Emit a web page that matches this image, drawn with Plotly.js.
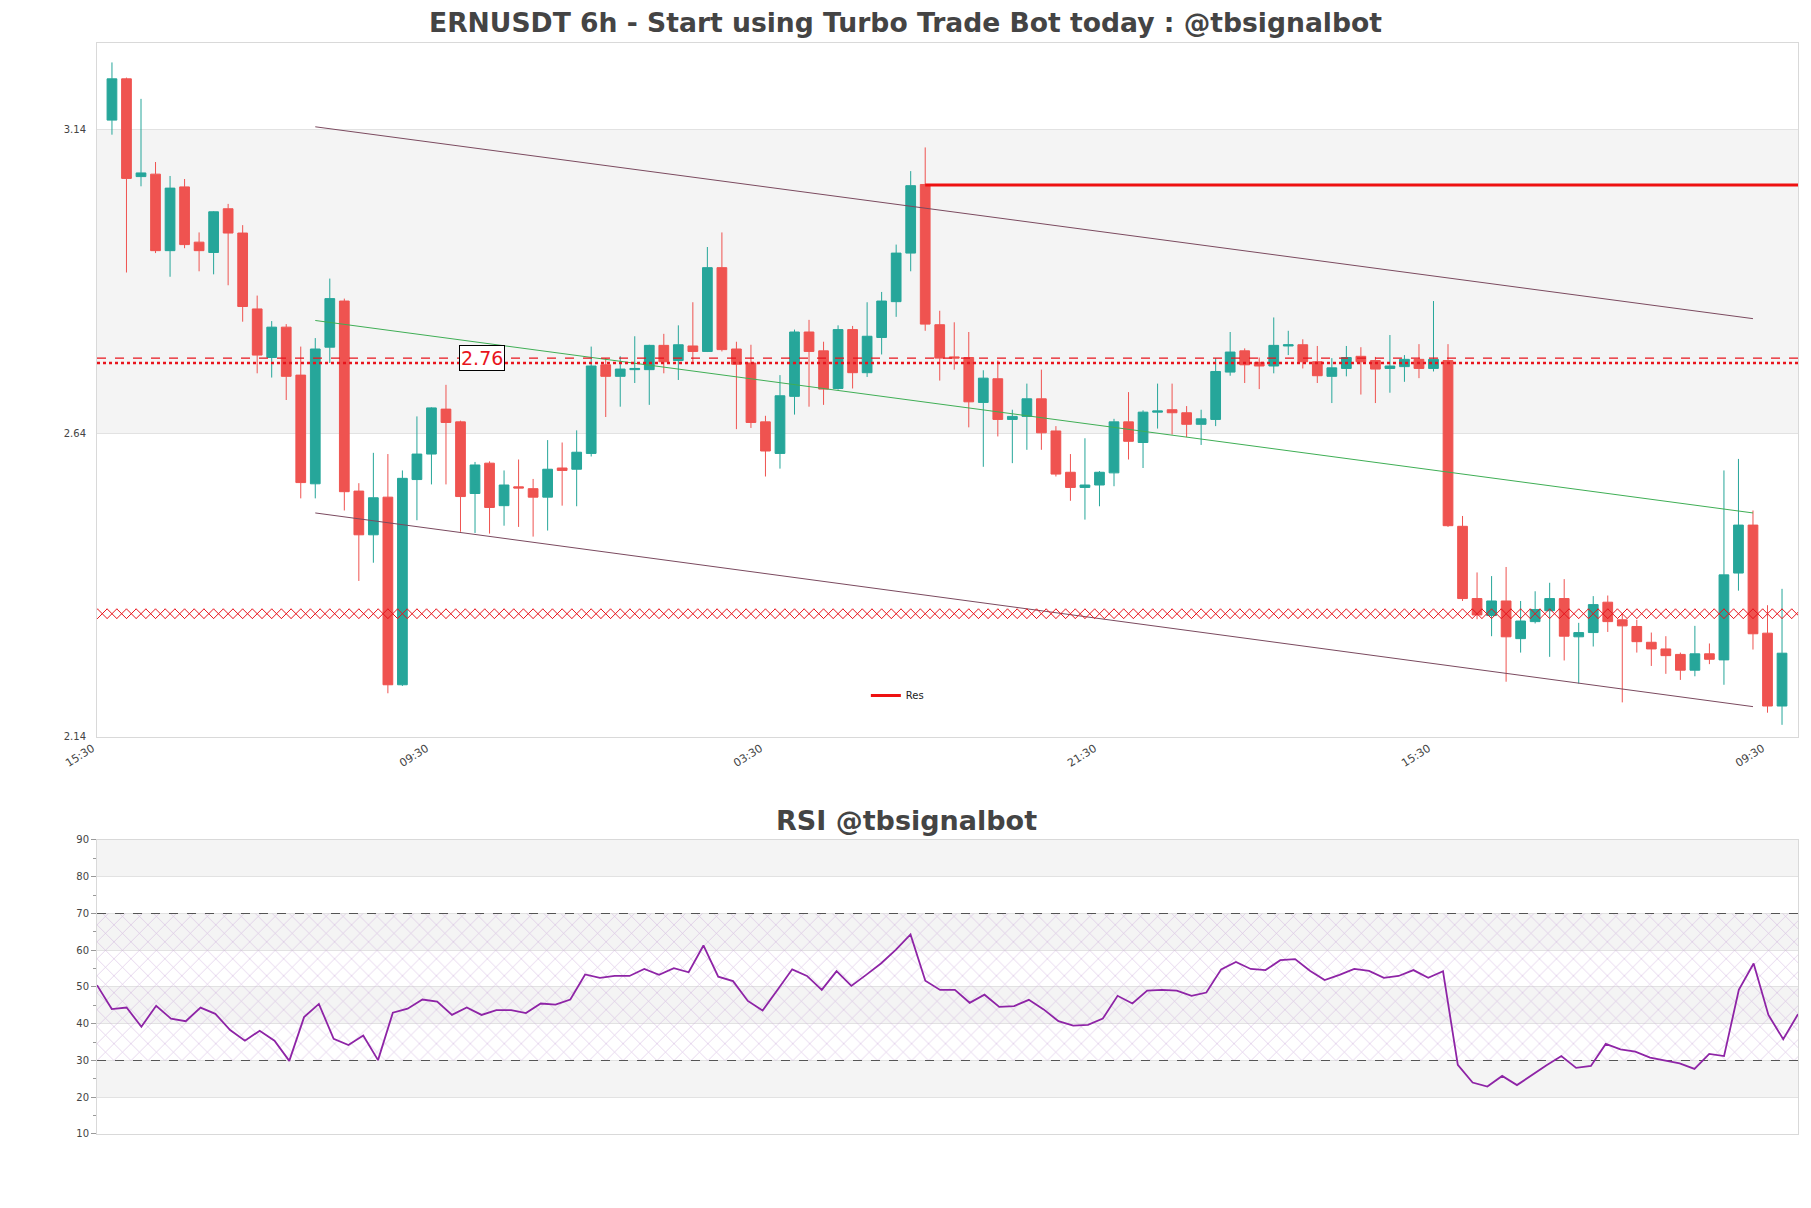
<!DOCTYPE html>
<html><head><meta charset="utf-8">
<script src="https://cdn.plot.ly/plotly-3.0.1.min.js"></script>
<style>html,body{margin:0;padding:0;background:#fff}</style>
</head><body>
<div id="chart" style="width:1811px;height:1208px"></div>
<script>
// ---- price data (6h candles) ----
const openP  = [3.156,3.224,3.063,3.067,2.941,3.046,2.955,2.938,3.010,2.970,2.845,2.765,2.815,2.736,2.557,2.782,2.858,2.545,2.473,2.535,2.226,2.564,2.606,2.680,2.659,2.541,2.591,2.521,2.552,2.549,2.535,2.583,2.581,2.607,2.753,2.734,2.745,2.745,2.785,2.760,2.784,2.775,2.913,2.779,2.756,2.659,2.607,2.701,2.807,2.776,2.714,2.811,2.740,2.798,2.857,2.937,3.050,2.819,2.766,2.765,2.691,2.730,2.663,2.668,2.697,2.644,2.576,2.551,2.555,2.575,2.659,2.625,2.675,2.679,2.674,2.655,2.663,2.741,2.776,2.757,2.751,2.784,2.786,2.758,2.734,2.747,2.767,2.760,2.747,2.750,2.762,2.747,2.760,2.487,2.368,2.340,2.364,2.302,2.330,2.348,2.368,2.305,2.312,2.362,2.333,2.322,2.296,2.285,2.276,2.250,2.277,2.267,2.410,2.489,2.311,2.191];
const highP  = [3.251,3.226,3.191,3.087,3.064,3.059,2.971,3.006,3.018,2.983,2.867,2.825,2.820,2.783,2.797,2.895,2.862,2.558,2.608,2.606,2.579,2.668,2.683,2.720,2.661,2.593,2.594,2.579,2.597,2.565,2.629,2.625,2.645,2.783,2.764,2.767,2.800,2.786,2.804,2.818,2.856,2.947,2.971,2.791,2.786,2.669,2.736,2.811,2.827,2.791,2.818,2.817,2.856,2.873,2.951,3.072,3.111,2.842,2.823,2.807,2.744,2.760,2.679,2.722,2.745,2.652,2.606,2.632,2.578,2.664,2.708,2.678,2.722,2.722,2.685,2.679,2.764,2.807,2.780,2.765,2.831,2.809,2.795,2.784,2.764,2.784,2.782,2.766,2.802,2.769,2.787,2.858,2.787,2.504,2.411,2.405,2.420,2.364,2.380,2.394,2.400,2.328,2.372,2.373,2.343,2.333,2.312,2.306,2.279,2.323,2.294,2.579,2.598,2.513,2.357,2.384];
const lowP   = [3.132,2.905,3.047,2.937,2.898,2.945,2.907,2.902,2.884,2.824,2.739,2.732,2.695,2.533,2.533,2.756,2.513,2.397,2.427,2.212,2.224,2.497,2.556,2.556,2.478,2.476,2.475,2.488,2.486,2.470,2.480,2.521,2.520,2.602,2.667,2.684,2.723,2.687,2.739,2.728,2.756,2.774,2.775,2.647,2.649,2.569,2.582,2.671,2.684,2.687,2.712,2.714,2.733,2.770,2.832,2.907,2.809,2.727,2.745,2.650,2.585,2.635,2.591,2.613,2.613,2.569,2.529,2.498,2.520,2.553,2.597,2.583,2.648,2.638,2.634,2.621,2.652,2.735,2.723,2.713,2.739,2.769,2.747,2.723,2.690,2.734,2.704,2.690,2.707,2.725,2.731,2.742,2.486,2.364,2.334,2.306,2.231,2.279,2.327,2.272,2.266,2.228,2.289,2.313,2.197,2.279,2.257,2.244,2.234,2.240,2.260,2.226,2.381,2.284,2.180,2.160];
const closeP = [3.224,3.060,3.069,2.941,3.044,2.951,2.941,3.005,2.970,2.849,2.769,2.815,2.734,2.559,2.779,2.862,2.544,2.473,2.534,2.226,2.566,2.606,2.682,2.658,2.536,2.588,2.518,2.555,2.550,2.535,2.581,2.579,2.609,2.751,2.734,2.746,2.747,2.785,2.758,2.786,2.775,2.913,2.778,2.754,2.658,2.611,2.702,2.807,2.775,2.713,2.811,2.740,2.800,2.858,2.937,3.048,2.820,2.764,2.764,2.692,2.731,2.663,2.668,2.697,2.641,2.573,2.551,2.555,2.576,2.659,2.627,2.675,2.677,2.674,2.655,2.664,2.742,2.774,2.753,2.751,2.785,2.786,2.758,2.735,2.748,2.765,2.758,2.746,2.751,2.762,2.747,2.762,2.488,2.368,2.341,2.364,2.305,2.331,2.350,2.368,2.306,2.312,2.358,2.330,2.323,2.297,2.285,2.274,2.250,2.277,2.268,2.407,2.489,2.310,2.191,2.278];

// ---- RSI ----
const rsiVals = [50.5,44.0,44.4,39.2,44.9,41.4,40.7,44.4,42.7,38.3,35.4,38.1,35.4,29.9,41.8,45.4,35.9,34.2,36.8,30.1,43.0,44.1,46.6,46.0,42.4,44.4,42.4,43.7,43.7,42.9,45.5,45.2,46.6,53.4,52.5,53.0,53.0,54.9,53.3,55.1,54.0,61.3,52.8,51.6,46.2,43.6,49.2,54.8,53.0,49.2,54.3,50.3,53.3,56.4,60.1,64.3,51.7,49.2,49.2,45.7,47.9,44.6,44.8,46.5,43.9,40.7,39.5,39.7,41.4,47.6,45.5,49.0,49.2,49.0,47.6,48.5,54.8,56.8,54.9,54.6,57.3,57.6,54.4,51.9,53.3,54.9,54.4,52.5,53.0,54.6,52.5,54.3,28.8,24.0,22.9,25.8,23.3,26.1,28.7,31.2,28.0,28.5,34.5,33.0,32.4,30.8,30.0,29.2,27.7,31.8,31.2,49.2,56.4,42.4,35.8,42.6];
const rsiLevels = [70, 30];

// ---- overlays ----
const channelIdx = [14, 113];
const upperVals = [3.145, 2.829];
const midVals   = [2.826, 2.509];
const lowerVals = [2.509, 2.190];
const resIdx = [56, 117];
const resLevel = 3.049;
const dashLevel = 2.764;
const dotLevel = 2.756;
const supLevel = 2.343;
const labelText = '2.76';
const mainBands = [[2.64, 3.14]];
const rsiBands = [[20,30],[40,50],[60,70],[80,90]];

// ---- time axis ----
const T0 = Date.UTC(2024, 4, 10, 21, 30);
const STEP = 6 * 3600 * 1000;
function dateAt(idx) {
  return new Date(T0 + Math.round(idx * STEP)).toISOString().slice(0, 19).replace('T', ' ');
}
const dates = openP.map((_, i) => dateAt(i));
const xStart = dateAt(-1.03), xEnd = dateAt(116.1);

const supX = [];
for (let k = -2; k <= 176; k++) supX.push(dateAt(k / 1.5));

const RED = '#ef5350', TEAL = '#26a69a';
const traces = [
  {type: 'candlestick', x: dates, open: openP, high: highP, low: lowP, close: closeP,
   increasing: {line: {color: TEAL, width: 1}, fillcolor: TEAL},
   decreasing: {line: {color: RED, width: 1}, fillcolor: RED},
   whiskerwidth: 0, showlegend: false, hoverinfo: 'skip', xaxis: 'x', yaxis: 'y'},
  {type: 'scatter', mode: 'lines', x: channelIdx.map(dateAt), y: upperVals,
   line: {color: '#7b4a5f', width: 1}, showlegend: false, xaxis: 'x', yaxis: 'y'},
  {type: 'scatter', mode: 'lines', x: channelIdx.map(dateAt), y: midVals,
   line: {color: '#3fae55', width: 1}, showlegend: false, xaxis: 'x', yaxis: 'y'},
  {type: 'scatter', mode: 'lines', x: channelIdx.map(dateAt), y: lowerVals,
   line: {color: '#7b4a5f', width: 1}, showlegend: false, xaxis: 'x', yaxis: 'y'},
  {type: 'scatter', mode: 'lines', x: [xStart, xEnd], y: [dashLevel, dashLevel],
   line: {color: '#e8141c', width: 1.3, dash: 'dash'}, showlegend: false, xaxis: 'x', yaxis: 'y'},
  {type: 'scatter', mode: 'lines', x: [xStart, xEnd], y: [dotLevel, dotLevel],
   line: {color: '#e8141c', width: 2.5, dash: 'dot'}, showlegend: false, xaxis: 'x', yaxis: 'y'},
  {type: 'scatter', mode: 'markers', x: supX, y: supX.map(() => supLevel),
   marker: {symbol: 'x-thin-open', size: 10, color: '#e8141c', line: {color: '#e8141c', width: 1}},
   showlegend: false, xaxis: 'x', yaxis: 'y'},
  {type: 'scatter', mode: 'lines', x: resIdx.map(dateAt), y: [resLevel, resLevel], name: 'Res',
   line: {color: '#ee1111', width: 3}, showlegend: true, xaxis: 'x', yaxis: 'y'},
  // RSI
  {type: 'scatter', mode: 'lines', x: [dates[0], dates[dates.length - 1]], y: [rsiLevels[1], rsiLevels[1]],
   line: {width: 0, color: 'rgba(0,0,0,0)'}, showlegend: false, xaxis: 'x2', yaxis: 'y2', hoverinfo: 'skip'},
  {type: 'scatter', mode: 'lines', x: [dates[0], dates[dates.length - 1]], y: [rsiLevels[0], rsiLevels[0]],
   fill: 'tonexty', fillcolor: 'rgba(0,0,0,0)',
   fillpattern: {shape: 'x', fgcolor: 'rgba(200,165,215,0.7)', bgcolor: 'rgba(0,0,0,0)', size: 12, solidity: 0.1},
   line: {width: 0, color: 'rgba(0,0,0,0)'}, showlegend: false, xaxis: 'x2', yaxis: 'y2', hoverinfo: 'skip'},
  {type: 'scatter', mode: 'lines', x: [dates[0], dates[dates.length - 1]], y: [rsiLevels[0], rsiLevels[0]],
   line: {color: '#555', width: 1.2, dash: 'dash'}, showlegend: false, xaxis: 'x2', yaxis: 'y2'},
  {type: 'scatter', mode: 'lines', x: [dates[0], dates[dates.length - 1]], y: [rsiLevels[1], rsiLevels[1]],
   line: {color: '#555', width: 1.2, dash: 'dash'}, showlegend: false, xaxis: 'x2', yaxis: 'y2'},
  {type: 'scatter', mode: 'lines', x: dates, y: rsiVals,
   line: {color: '#8e24a6', width: 1.8}, showlegend: false, xaxis: 'x2', yaxis: 'y2'}
];

const shapes = [];
mainBands.forEach(b => shapes.push({type: 'rect', xref: 'paper', yref: 'y', x0: 0, x1: 1, y0: b[0], y1: b[1],
  fillcolor: '#f4f4f4', line: {width: 0}, layer: 'below'}));
rsiBands.forEach(b => shapes.push({type: 'rect', xref: 'paper', yref: 'y2', x0: 0, x1: 1, y0: b[0], y1: b[1],
  fillcolor: '#f4f4f4', line: {width: 0}, layer: 'below'}));

const FONT = 'DejaVu Sans';
const axisLine = '#d9d9d9';
const layout = {
  width: 1811, height: 1208,
  margin: {l: 97, r: 13, t: 43, b: 74},
  paper_bgcolor: '#fff', plot_bgcolor: 'rgba(0,0,0,0)',
  font: {family: FONT, size: 10, color: '#444'},
  boxgap: 0.33, boxgroupgap: 0,
  title: {text: '<b>ERNUSDT 6h - Start using Turbo Trade Bot today : @tbsignalbot</b>',
          x: 0.5, xref: 'container', xanchor: 'center', y: 1 - 23 / 1208, yref: 'container', yanchor: 'middle',
          font: {family: FONT, size: 26.6, color: '#444'}},
  showlegend: true,
  legend: {x: 0.452, y: 0.402, xanchor: 'left', yanchor: 'middle', bgcolor: 'rgba(0,0,0,0)',
           font: {family: FONT, size: 10, color: '#222'}},
  xaxis: {type: 'date', domain: [0, 1], anchor: 'y', range: [xStart, xEnd],
          tick0: dateAt(-1), dtick: 138 * 3600 * 1000, tickformat: '%H:%M', tickangle: -32,
          ticklabelshift: -5,
          showgrid: false, showline: true, mirror: true, linecolor: axisLine, ticks: '',
          rangeslider: {visible: false}, tickfont: {size: 11, color: '#444'}},
  yaxis: {domain: [0.3639, 1], anchor: 'x', range: [2.14, 3.283], tick0: 2.14, dtick: 0.5, tickformat: '.2f',
          showgrid: true, gridcolor: '#e2e2e2', zeroline: false, showline: true, mirror: true, linecolor: axisLine,
          ticks: '', ticklabelstandoff: 8, tickfont: {size: 10, color: '#444'}},
  xaxis2: {type: 'date', domain: [0, 1], anchor: 'y2', range: [dates[0], dates[dates.length - 1]],
           showticklabels: false, showgrid: false, showline: true, mirror: true, linecolor: axisLine, ticks: ''},
  yaxis2: {domain: [0, 0.2695], anchor: 'x2', range: [10, 90], dtick: 10, tick0: 10,
           showgrid: true, gridcolor: '#e2e2e2', zeroline: false, showline: true, mirror: true, linecolor: axisLine,
           ticks: 'outside', ticklen: 5, tickcolor: '#999',
           minor: {ticks: 'outside', ticklen: 3, dtick: 5, tickcolor: '#999', showgrid: false},
           tickfont: {size: 10, color: '#444'}},
  shapes: shapes,
  annotations: [
    {xref: 'paper', yref: 'y', x: (482 - 97) / 1701, y: dashLevel, xanchor: 'center', yanchor: 'middle',
     text: labelText, showarrow: false,
     font: {family: FONT, size: 19, color: '#e8141c'}, bgcolor: '#fff', bordercolor: '#000', borderwidth: 1, borderpad: 1},
    {xref: 'paper', yref: 'paper', x: (906 - 97) / 1701, y: (1134 - 820) / 1091, xanchor: 'center', yanchor: 'middle',
     text: '<b>RSI @tbsignalbot</b>', showarrow: false, font: {family: FONT, size: 27, color: '#444'}}
  ]
};

Plotly.newPlot('chart', traces, layout, {displayModeBar: false, staticPlot: true});
</script>
</body></html>
